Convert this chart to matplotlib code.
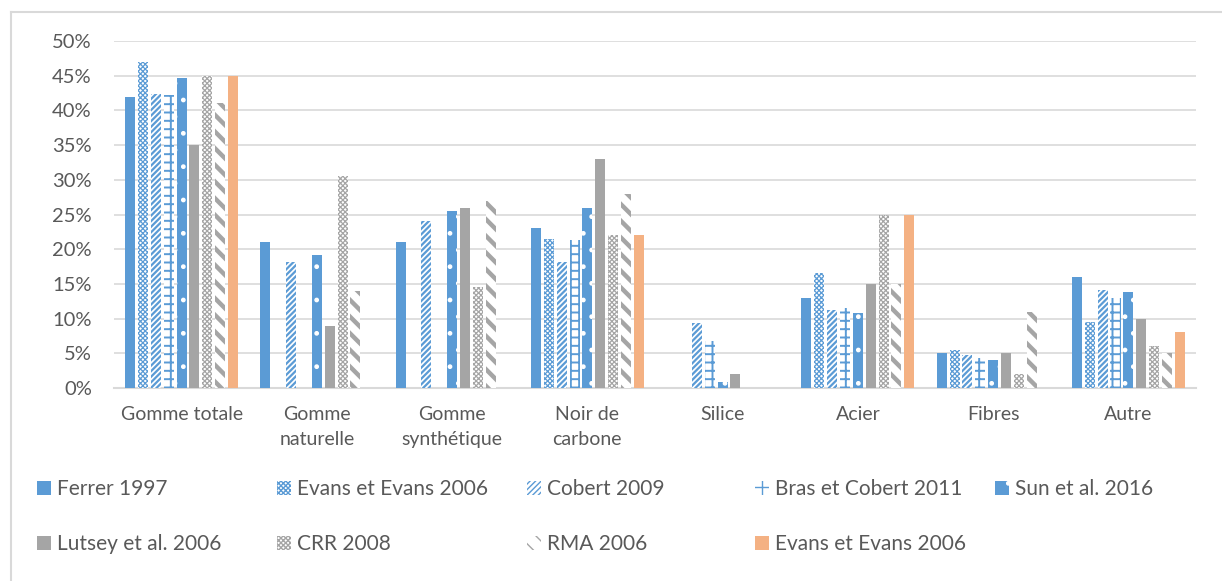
import matplotlib
matplotlib.use('Agg')
import matplotlib.pyplot as plt
from matplotlib.lines import Line2D
from matplotlib.ticker import PercentFormatter
import numpy as np

plt.rcParams['font.family'] = ['Lato', 'DejaVu Sans']
plt.rcParams['hatch.linewidth'] = 1.0

categories = ['Gomme totale', 'Gomme\nnaturelle', 'Gomme\nsynthétique', 'Noir de\ncarbone',
              'Silice', 'Acier', 'Fibres', 'Autre']

series_names = ['Ferrer 1997', 'Evans et Evans 2006', 'Cobert 2009', 'Bras et Cobert 2011',
                'Sun et al. 2016', 'Lutsey et al. 2006', 'CRR 2008', 'RMA 2006', 'Evans et Evans 2006']

# values in percent, one list per source, ordered like categories
ferrer_1997 = [42.0, 21.0, 21.0, 23.0, 0.0, 13.0, 5.0, 16.0]
evans_2006 = [47.0, 0.0, 0.0, 21.5, 0.0, 16.5, 5.5, 9.5]
cobert_2009 = [42.3, 18.2, 24.1, 18.2, 9.3, 11.3, 4.8, 14.1]
bras_cobert_2011 = [42.2, 0.0, 0.0, 21.3, 6.8, 11.5, 4.3, 12.9]
sun_2016 = [44.7, 19.2, 25.5, 26.0, 0.8, 10.8, 4.1, 13.8]
lutsey_2006 = [35.0, 9.0, 26.0, 33.0, 2.0, 15.0, 5.0, 10.0]
crr_2008 = [45.0, 30.5, 14.5, 22.0, 0.0, 25.0, 2.0, 6.0]
rma_2006 = [41.0, 14.0, 27.0, 28.0, 0.0, 15.0, 11.0, 5.0]
evans_2006_b = [45.0, 0.0, 0.0, 22.0, 0.0, 25.0, 0.0, 8.0]

all_series = [ferrer_1997, evans_2006, cobert_2009, bras_cobert_2011, sun_2016,
              lutsey_2006, crr_2008, rma_2006, evans_2006_b]

blue = '#5B9BD5'
gray = '#A5A5A5'
orange = '#F4B183'
txt = '#595959'
grid_c = '#D9D9D9'

# (face, hatch colour, hatch, hatch linewidth)
styles = [
    (blue, blue, None, 1.0),
    ('white', blue, 'xxxxxxx', 0.9),
    ('white', blue, '//////', 1.6),
    ('white', blue, '++', 1.4),
    (blue, 'white', '.', 1.0),
    (gray, gray, None, 1.0),
    ('white', gray, 'xxxxxxx', 0.9),
    ('white', gray, '\\\\', 3.2),
    (orange, orange, None, 1.0),
]

fig = plt.figure(figsize=(12.22, 5.81), dpi=100)
ax = fig.add_axes([0.0933, 0.3322, 0.8854, 0.5972])

x = np.arange(len(categories))
pitch = 0.095
width = 0.074
bars = []
for j, vals in enumerate(all_series):
    face, hcol, hatch, hlw = styles[j]
    b = ax.bar(x + (j - 4) * pitch, np.array(vals) / 100.0, width,
               color=face, edgecolor=hcol, hatch=hatch, linewidth=0,
               label=series_names[j], zorder=3)
    for p in b.patches:
        if hasattr(p, 'set_hatch_linewidth'):
            p.set_hatch_linewidth(hlw)
    bars.append(b)

ax.set_xlim(-0.5, len(categories) - 0.5)
ax.set_ylim(0, 0.5)
ax.set_yticks(np.arange(0, 0.51, 0.05))
ax.yaxis.set_major_formatter(PercentFormatter(1, decimals=0))
ax.grid(axis='y', color=grid_c, linewidth=1.2, zorder=0)
ax.set_axisbelow(True)
for s in ['top', 'right', 'left']:
    ax.spines[s].set_visible(False)
ax.spines['bottom'].set_color(grid_c)
ax.spines['bottom'].set_linewidth(1.5)
ax.tick_params(axis='both', length=0, colors=txt)
ax.tick_params(axis='y', pad=16, labelsize=14.5)
ax.tick_params(axis='x', pad=13)
ax.set_xticks(x)
ax.set_xticklabels(categories, fontsize=14, color=txt, linespacing=1.6, va='top')

# legend: one small legend per entry, laid out in 2 rows like the original
col_x = [37, 277, 527, 755, 995]
row_y = [489, 544]
for j in range(len(series_names)):
    r, c = divmod(j, 5)
    lg = fig.legend([bars[j]], [series_names[j]], loc='center left',
                    bbox_to_anchor=(col_x[c] / 1222.0, 1 - row_y[r] / 581.0),
                    frameon=False, fontsize=15, handlelength=0.65, handleheight=0.65,
                    handletextpad=0.3, borderpad=0, borderaxespad=0)
    for t in lg.get_texts():
        t.set_color(txt)

# chart border (only top and left visible in the crop)
fig.add_artist(Line2D([11 / 1222.0, 1.0], [1 - 12 / 581.0, 1 - 12 / 581.0],
                      transform=fig.transFigure, color=grid_c, linewidth=1.5))
fig.add_artist(Line2D([11 / 1222.0, 11 / 1222.0], [0.0, 1 - 12 / 581.0],
                      transform=fig.transFigure, color=grid_c, linewidth=1.5))

fig.savefig('out.png', dpi=100)
